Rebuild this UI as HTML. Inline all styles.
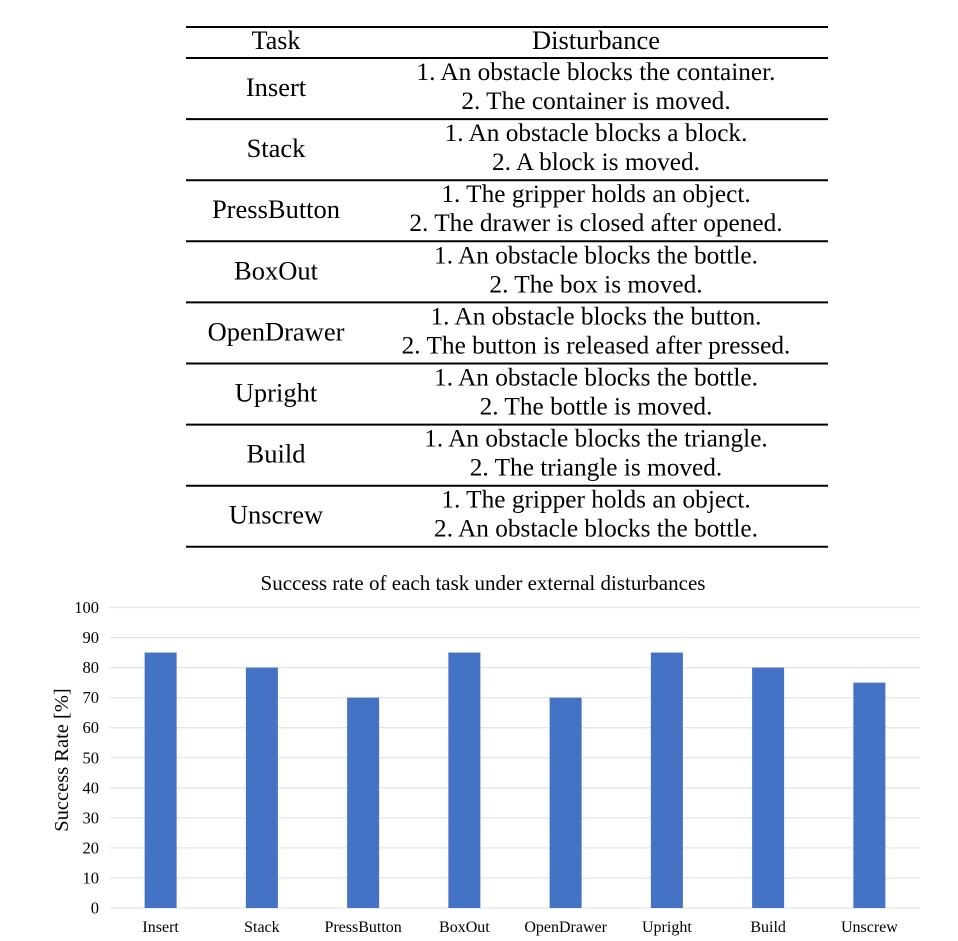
<!DOCTYPE html>
<html><head><meta charset="utf-8"><style>
html,body{margin:0;padding:0;background:#fff;}
svg{display:block;font-family:"Liberation Serif",serif;}
</style></head><body>
<svg id="s" width="958" height="941" viewBox="0 0 958 941">
<g id="table"></g>
<g id="chart"></g>
</svg>
<script>
const tasks=["Insert","Stack","PressButton","BoxOut","OpenDrawer","Upright","Build","Unscrew"];
const dist1=["1. An obstacle blocks the container.","1. An obstacle blocks a block.","1. The gripper holds an object.","1. An obstacle blocks the bottle.","1. An obstacle blocks the button.","1. An obstacle blocks the bottle.","1. An obstacle blocks the triangle.","1. The gripper holds an object."];
const dist2=["2. The container is moved.","2. A block is moved.","2. The drawer is closed after opened.","2. The box is moved.","2. The button is released after pressed.","2. The bottle is moved.","2. The triangle is moved.","2. An obstacle blocks the bottle."];
const categories=tasks;
const successRate=[85,80,70,85,70,85,80,75];
const yTicks=[0,10,20,30,40,50,60,70,80,90,100];
const NS="http://www.w3.org/2000/svg";
function mk(tag,attrs,parent,txt){const e=document.createElementNS(NS,tag);for(const k in attrs)e.setAttribute(k,attrs[k]);if(txt!==undefined)e.textContent=txt;parent.appendChild(e);return e;}
// table
const T=document.getElementById('table');
const tx0=186,tx1=828,c1=276,c2=596;
const ty=[27,58];for(let i=1;i<=8;i++)ty.push(58+i*61.1);
ty.forEach((y,i)=>{const l=mk('line',{x1:tx0,x2:tx1,y1:y,y2:y,stroke:'#000','stroke-width':2},T);

});
let h=mk('text',{x:c1,y:49,'text-anchor':'middle','font-size':26},T,'Task');


h=mk('text',{x:c2,y:49,'text-anchor':'middle','font-size':26.5},T,'Disturbance');


tasks.forEach((t,i)=>{const top=ty[i+1];
let e=mk('text',{x:c1,y:top+38,'text-anchor':'middle','font-size':26.5},T,t);


e=mk('text',{x:c2,y:top+22,'text-anchor':'middle','font-size':25.3},T,dist1[i]);


e=mk('text',{x:c2,y:top+51,'text-anchor':'middle','font-size':25.3},T,dist2[i]);

});
// chart
const C=document.getElementById('chart');
const px0=110,px1=920,py0=908,py1=607.5;
const yS=v=>py0-(v-0)/(100-0)*(py0-py1);
const step=(px1-px0)/categories.length;
const xS=i=>px0+step*(i+0.5);
let ti=mk('text',{x:483,y:590,'text-anchor':'middle','font-size':21},C,'Success rate of each task under external disturbances');


yTicks.forEach(v=>{const g=mk('line',{x1:px0,x2:px1,y1:yS(v),y2:yS(v),stroke:'#e6e6e6','stroke-width':1.3},C);


const t=mk('text',{x:99,y:yS(v)+5.5,'text-anchor':'end','font-size':16.5},C,String(v));

});
const bw=32;
categories.forEach((c,i)=>{const b=mk('rect',{x:xS(i)-bw/2,y:yS(successRate[i]),width:bw,height:yS(0)-yS(successRate[i]),fill:'#4472c4'},C);


const t=mk('text',{x:xS(i),y:932,'text-anchor':'middle','font-size':16},C,c);

});
let yl=mk('text',{x:0,y:0,'text-anchor':'middle','font-size':20.5,transform:'translate(68,760) rotate(-90)'},C,'Success Rate [%]');


</script>
</body></html>
